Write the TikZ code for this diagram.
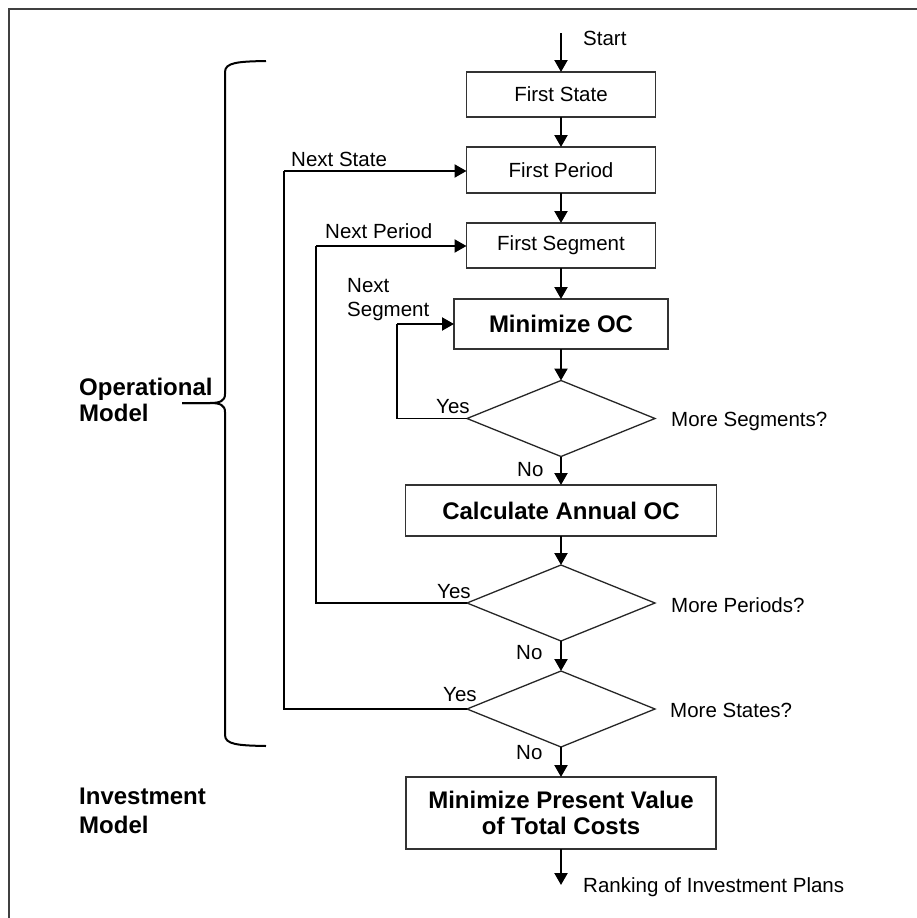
\documentclass[tikz,border=0pt]{standalone}
\usepackage{fontspec}
\setmainfont{Liberation Sans}
\usetikzlibrary{shapes.geometric,arrows.meta}
\begin{document}
\begin{tikzpicture}[x=1pt,y=-1pt,
  every node/.style={font=\fontsize{20.5}{24}\selectfont},
  box/.style={draw=black!80, line width=1.5pt, inner sep=0pt, outer sep=0pt, align=center},
  boldbox/.style={box, font=\fontsize{24}{26}\selectfont\bfseries},
  decision/.style={diamond, draw=black!85, line width=1.3pt, minimum width=188pt,
    minimum height=76pt, inner sep=0pt, outer sep=0pt},
  lbl/.style={anchor=base west, inner sep=0pt},
  multilbl/.style={anchor=west, inner sep=0pt, align=left},
  flow/.style={line width=2.2pt, -{Triangle[length=12pt,width=13pt]}},
  back/.style={line width=1.3pt},
  frame/.style={draw=black!75, line width=2pt},
  bracket/.style={line width=2pt},
]
\useasboundingbox (0,0) rectangle (917,918);
\fill[white] (0,0) rectangle (917,918);

% outer frame (open to the right and bottom)
\draw[frame] (9,918) -- (9,9) -- (917,9);

% main column
\node[box, minimum width=189pt, minimum height=45pt] (fstate) at (561,94.5) {First State};
\node[box, minimum width=189pt, minimum height=46pt] (fperiod) at (561,170) {First Period};
\node[box, minimum width=189pt, minimum height=45pt] (fseg) at (561,245.5) {First Segment};
\node[boldbox, minimum width=214pt, minimum height=50pt] (minoc) at (561,324) {Minimize OC};
\node[decision] (dseg) at (561,418.5) {};
\node[boldbox, minimum width=311pt, minimum height=51pt] (annual) at (561,510.5) {Calculate Annual OC};
\node[decision] (dper) at (561,603) {};
\node[decision] (dstate) at (561,709) {};
\node[boldbox, minimum width=310pt, minimum height=72pt] (minpv) at (561,813)
  {Minimize Present Value\\of Total Costs};

\coordinate (start) at (561,33);
\coordinate (finish) at (561,885);

% forward flow
\draw[flow] (start) -- (fstate.north);
\draw[flow] (fstate.south) -- (fperiod.north);
\draw[flow] (fperiod.south) -- (fseg.north);
\draw[flow] (fseg.south) -- (minoc.north);
\draw[flow] (minoc.south) -- (dseg.north);
\draw[flow] (dseg.south) -- (annual.north);
\draw[flow] (annual.south) -- (dper.north);
\draw[flow] (dper.south) -- (dstate.north);
\draw[flow] (dstate.south) -- (minpv.north);
\draw[flow] (minpv.south) -- (finish);

% return loops
\coordinate (segcorner) at (397,324);
\coordinate (percorner) at (316,246);
\coordinate (statecorner) at (284,171);
\draw[back] (dseg.west) -| (segcorner);
\draw[flow] (segcorner) -- (segcorner -| minoc.west);
\draw[back] (dper.west) -| (percorner);
\draw[flow] (percorner) -- (percorner -| fseg.west);
\draw[back] (dstate.west) -| (statecorner);
\draw[flow] (statecorner) -- (statecorner -| fperiod.west);

% labels
\node[lbl] (tstart) at (583,45.5) {Start};
\node[lbl] (tnstate) at (291,166) {Next State};
\node[lbl] (tnper) at (325,238) {Next Period};
\node[multilbl, font=\fontsize{20.5}{24}\selectfont] (tnseg) at (347,300) {Next\\Segment};
\node[lbl] (yes1) at (436,413) {Yes};
\node[lbl] (q1) at (671,426) {More Segments?};
\node[lbl] (no1) at (517,476) {No};
\node[lbl] (yes2) at (437,598) {Yes};
\node[lbl] (q2) at (671,612) {More Periods?};
\node[lbl] (no2) at (516,659) {No};
\node[lbl] (yes3) at (443,701) {Yes};
\node[lbl] (q3) at (670,717) {More States?};
\node[lbl] (no3) at (516,759) {No};
\node[lbl] (trank) at (583,892) {Ranking of Investment Plans};

\node[multilbl, font=\fontsize{24}{26}\selectfont\bfseries] (opmodel) at (79,400) {Operational\\Model};
\node[multilbl, font=\fontsize{24}{29}\selectfont\bfseries] (invmodel) at (79,811) {Investment\\Model};

% brace around the operational model
\draw[bracket] (266,61) .. controls (238,61.5) and (225,62.5) .. (225,72)
  -- (225,394) .. controls (225,401) and (220,403) .. (210,403) -- (182,403);
\draw[bracket] (182,403) -- (210,403) .. controls (220,403) and (225,405) .. (225,412)
  -- (225,735) .. controls (225,744.5) and (238,745.5) .. (266,746);
\end{tikzpicture}
\end{document}
